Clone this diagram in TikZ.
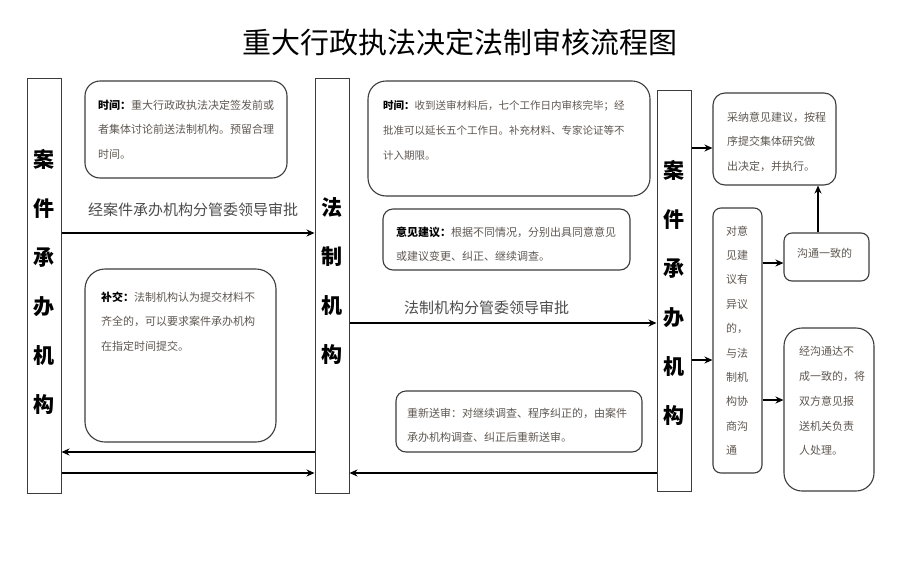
\documentclass[tikz,border=0pt]{standalone}
\usepackage{fontspec}
\setmainfont{Noto Sans CJK SC}
\usetikzlibrary{arrows.meta}
\definecolor{bodygray}{RGB}{95,88,82}
\definecolor{linegray}{RGB}{60,60,60}
\newcommand{\hd}[1]{{\color{black}\bfseries #1}}
\begin{document}
\begin{tikzpicture}[x=1pt,y=-1pt,
  col/.style={draw=linegray, line width=1pt, fill=white, inner sep=0},
  rbox/.style={draw=linegray, line width=1.1pt, inner sep=0},
  coltext/.style={font=\fontsize{21}{49}\selectfont\bfseries, align=center, inner sep=0},
  body/.style={anchor=north west, inner sep=0, align=left, text=bodygray, font=\fontsize{11}{24.5}\selectfont},
  lbl/.style={anchor=west, inner sep=0, text=black!70, font=\fontsize{15}{18}\selectfont},
  arr/.style={-{Stealth[length=8pt,width=7pt]}, line width=1.3pt, draw=black}
]
\useasboundingbox[fill=white] (0,0) rectangle (908,576);

% title
\node[font=\fontsize{29}{32}\selectfont, inner sep=0] (title) at (460,42) {重大行政执法决定法制审核流程图};

% columns
\node[col, minimum width=34, minimum height=415] (L) at (44,285.5) {};
\node[coltext] (Lt) at (44,281.5) {案\\件\\承\\办\\机\\构};
\node[col, minimum width=34, minimum height=415] (M) at (332,285.5) {};
\node[coltext] (Mt) at (332,281.5) {法\\制\\机\\构};
\node[col, minimum width=34, minimum height=401] (R) at (674,290.5) {};
\node[coltext] (Rt) at (674,292.5) {案\\件\\承\\办\\机\\构};

% left boxes
\node[rbox, rounded corners=15pt, minimum width=202, minimum height=97] (B1) at (186,129.5) {};
\node[body] (B1t) at (98,99.5) {\hd{时间：}重大行政政执法决定签发前或\\者集体讨论前送法制机构。预留合理\\时间。};
\node[rbox, rounded corners=20pt, minimum width=191, minimum height=173] (B2) at (180.5,355.5) {};
\node[body] (B2t) at (101,291.5) {\hd{补交：}法制机构认为提交材料不\\齐全的，可以要求案件承办机构\\在指定时间提交。};

\node[lbl] (lab1) at (88,210) {经案件承办机构分管委领导审批};

% middle boxes
\node[rbox, rounded corners=18pt, minimum width=282, minimum height=115] (C1) at (509,138.5) {};
\node[body, font=\fontsize{10.5}{25}\selectfont] (C1t) at (383,100) {\hd{时间：}收到送审材料后，七个工作日内审核完毕；经\\批准可以延长五个工作日。补充材料、专家论证等不\\计入期限。};
\node[rbox, rounded corners=10pt, minimum width=247, minimum height=61] (C2) at (506.5,239.5) {};
\node[body, font=\fontsize{11}{23.5}\selectfont] (C2t) at (396,227) {\hd{意见建议：}根据不同情况，分别出具同意意见\\或建议变更、纠正、继续调查。};
\node[lbl] (lab2) at (404,308) {法制机构分管委领导审批};
\node[rbox, rounded corners=10pt, minimum width=246, minimum height=61] (C3) at (519,421.5) {};
\node[body, font=\fontsize{11}{24}\selectfont] (C3t) at (407,408) {重新送审：对继续调查、程序纠正的，由案件\\承办机构调查、纠正后重新送审。};

% right boxes
\node[rbox, rounded corners=12pt, minimum width=123, minimum height=92] (A) at (774.5,139) {};
\node[body] (At) at (727,111.5) {采纳意见建议，按程\\序提交集体研究做\\出决定，并执行。};
\node[rbox, rounded corners=8pt, minimum width=49, minimum height=265] (D) at (737.5,340.5) {};
\node[body, font=\fontsize{11}{24.4}\selectfont] (Dt) at (726,225.5) {对意\\见建\\议有\\异议\\的，\\与法\\制机\\构协\\商沟\\通};
\node[rbox, rounded corners=8pt, minimum width=85, minimum height=48] (G) at (826.5,257) {};
\node[body] (Gt) at (797,248.5) {沟通一致的};
\node[rbox, rounded corners=18pt, minimum width=90, minimum height=163] (N) at (829,409.5) {};
\node[body, font=\fontsize{11}{24.75}\selectfont] (Nt) at (799,346.5) {经沟通达不\\成一致的，将\\双方意见报\\送机关负责\\人处理。};

% connectors
\draw[arr] (L.east |- 0,233) -- (M.west |- 0,233);
\draw[arr] (M.west |- 0,452) -- (L.east |- 0,452);
\draw[arr] (L.east |- 0,473) -- (M.west |- 0,473);
\draw[arr] (M.east |- 0,323) -- (R.west |- 0,323);
\draw[arr] (R.west |- 0,473) -- (M.east |- 0,473);
\draw[arr] (R.east |- 0,148) -- (A.west |- 0,148);
\draw[arr] (R.east |- 0,360) -- (D.west |- 0,360);
\draw[arr] (D.east |- 0,263) -- (G.west |- 0,263);
\draw[arr] (D.east |- 0,400) -- (N.west |- 0,400);
\draw[arr] (818,0 |- G.north) -- (818,0 |- A.south);
\end{tikzpicture}
\end{document}
